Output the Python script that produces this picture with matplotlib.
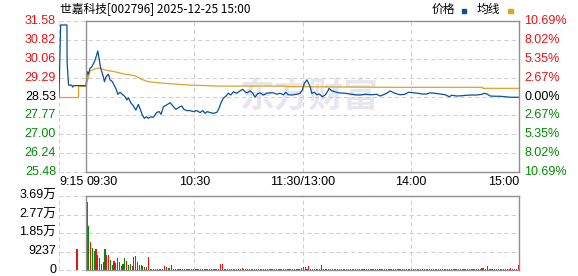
import matplotlib
matplotlib.use("Agg")
import matplotlib.pyplot as plt
from matplotlib.patches import Rectangle

# axis labels
PRICE_TICKS = [31.58, 30.82, 30.06, 29.29, 28.53, 27.77, 27.00, 26.24, 25.48]
PRICE_LABELS = ["31.58", "30.82", "30.06", "29.29", "28.53", "27.77", "27.00", "26.24", "25.48"]
PCT_LABELS = ["10.69%", "8.02%", "5.35%", "2.67%", "0.00%", "2.67%", "5.35%", "8.02%", "10.69%"]
VOL_TICKS = [36948, 27711, 18474, 9237, 0]
VOL_LABELS = ["3.69万", "2.77万", "1.85万", "9237", "0"]
TIME_POS = [-15, 0, 60, 120, 180, 240]
TIME_LABELS = ["9:15", "09:30", "10:30", "11:30/13:00", "14:00", "15:00"]

# minutes from 09:30 (negative = call auction from 09:15), afternoon continues at 120
pre_t = [-15, -14.1, -10.6, -10.5, -9.7, -8.0, -7.4, -6.8, 0]
pre_price = [28.55, 31.42, 31.42, 29.90, 28.99, 28.99, 28.91, 28.97, 28.97]
pre_avg_t = [-15, -4.5, -4.5, 0]
pre_avg = [28.53, 28.53, 28.95, 28.95]

t = [0.0, 0.7, 1.3, 2.2, 3.2, 4.4, 5.0, 5.9, 6.5, 7.2, 8.1, 9.3, 10.2, 11.1, 12.4, 13.3,
     14.6, 15.5, 16.5, 17.6, 18.8, 20.1, 21.6, 22.6, 23.5, 24.9, 26.2, 27.6, 29.0, 29.9,
     31.2, 32.3, 33.6, 34.5, 36.0, 37.3, 39.2, 40.5, 41.6, 42.9, 44.7, 46.6, 48.4, 49.9,
     51.2, 53.0, 54.3, 55.8, 57.6, 59.5, 61.4, 63.2, 64.7, 66.0, 67.2, 68.7, 70.6, 72.5,
     73.7, 74.8, 76.1, 77.6, 78.9, 80.2, 81.7, 83.5, 85.4, 86.9, 88.1, 89.4, 90.9, 92.4,
     93.7, 94.9, 96.4, 98.3, 100.2, 102.0, 103.8, 105.7, 107.5, 109.4, 110.7, 112.1,
     114.0, 116.8, 118.6, 119.9, 121.0, 122.4, 123.2, 124.2, 125.1, 126.6, 127.9, 129.3,
     131.0, 132.5, 133.8, 134.7, 136.2, 138.0, 139.9, 143.6, 146.3, 149.1, 151.9, 154.7,
     158.4, 161.1, 163.0, 164.8, 166.7, 168.5, 170.0, 171.3, 174.0, 176.8, 178.7, 181.4,
     184.2, 186.1, 188.9, 190.7, 193.5, 196.3, 199.1, 201.4, 202.7, 205.5, 208.3, 211.0,
     213.8, 216.6, 219.4, 220.8, 222.5, 224.0, 226.8, 229.5, 232.3, 235.1, 237.9, 240.0]
price = [28.97, 29.53, 29.43, 29.67, 29.73, 29.90, 30.00, 30.21, 30.37, 30.07, 29.67, 29.40,
         29.13, 29.33, 29.43, 29.20, 29.13, 28.99, 28.86, 28.62, 28.70, 28.62, 28.52, 28.39,
         28.48, 28.26, 28.16, 27.98, 28.21, 28.05, 27.78, 27.65, 27.71, 27.65, 27.71, 27.69,
         27.89, 27.92, 27.81, 28.12, 28.19, 28.28, 28.12, 28.01, 28.08, 28.15, 28.01, 27.96,
         27.96, 27.92, 27.96, 27.88, 27.96, 27.85, 27.92, 27.88, 27.85, 27.89, 28.05, 28.28,
         28.46, 28.55, 28.66, 28.59, 28.72, 28.66, 28.76, 28.82, 28.72, 28.68, 28.76, 28.66,
         28.50, 28.63, 28.68, 28.59, 28.66, 28.68, 28.68, 28.62, 28.66, 28.60, 28.70, 28.60,
         28.59, 28.62, 28.66, 28.79, 29.06, 29.20, 29.09, 28.93, 28.66, 28.70, 28.60, 28.63,
         28.52, 28.59, 28.72, 28.86, 28.76, 28.72, 28.68, 28.66, 28.63, 28.60, 28.59, 28.62,
         28.60, 28.62, 28.55, 28.60, 28.66, 28.76, 28.70, 28.66, 28.60, 28.62, 28.70, 28.68,
         28.66, 28.63, 28.63, 28.68, 28.66, 28.63, 28.60, 28.52, 28.58, 28.55, 28.56, 28.58,
         28.59, 28.59, 28.62, 28.66, 28.62, 28.55, 28.54, 28.54, 28.52, 28.50, 28.50, 28.50]

avg_t = [0, 2.2, 5.9, 8.0, 10.5, 16.0, 21.6, 27.1, 30.9, 34.5, 38.2, 44.0, 57.6, 74.3,
         111.0, 111.2, 170.0, 219.8, 220.0, 240]
avg = [28.95, 29.56, 29.67, 29.67, 29.60, 29.53, 29.43, 29.37, 29.22, 29.13, 29.10, 29.06,
       28.99, 28.95, 28.95, 28.93, 28.90, 28.90, 28.86, 28.86]

# volume per minute (09:30 onwards) and up/down colour
pre_vol_t = [-5]
pre_vol = [10330]
vol = [33800, 21950, 13970, 10980, 9630, 10330, 7480, 5990, 2990, 3990, 10330, 7480, 7480, 4990, 2500, 4640, 3640, 5990, 4140, 2000,
       2990, 5990, 4640, 2330, 2990, 2000, 6640, 6990, 4140, 2500, 2330, 2000, 1660, 1660, 6640, 700, 600, 650, 500, 600,
       550, 700, 600, 2000, 1660, 800, 1000, 2500, 600, 500, 550, 600, 500, 650, 500, 450, 600, 500, 550, 500,
       500, 600, 450, 500, 550, 500, 600, 500, 450, 550, 500, 600, 500, 550, 2990, 2990, 700, 500, 550, 600,
       500, 450, 550, 600, 500, 700, 1000, 600, 500, 450, 550, 500, 600, 500, 550, 500, 450, 600, 500, 550,
       500, 600, 450, 500, 550, 500, 600, 500, 450, 550, 500, 600, 500, 550, 500, 600, 450, 500, 550, 800,
       1660, 1330, 600, 2000, 700, 600, 550, 500, 600, 550, 2660, 600, 500, 550, 600, 500, 450, 550, 500, 600,
       500, 450, 550, 500, 600, 500, 550, 450, 500, 600, 500, 550, 500, 450, 600, 500, 550, 500, 600, 450,
       500, 550, 600, 500, 450, 550, 500, 600, 500, 550, 450, 500, 600, 500, 550, 500, 450, 600, 500, 550,
       500, 600, 450, 500, 550, 500, 600, 500, 450, 550, 500, 600, 500, 550, 500, 450, 600, 500, 550, 500,
       600, 450, 500, 550, 500, 600, 500, 450, 550, 500, 600, 500, 550, 500, 450, 600, 500, 600, 700, 1000,
       1000, 600, 2000, 600, 500, 550, 500, 600, 450, 500, 550, 500, 600, 500, 550, 1000, 500, 600, 700, 2500]
vol_dir = ("rgrggrrggggrrggrggrg" "ggrggrgrgrggrgrgrrgg" "rgrrrgrgrggrgrrgrggr"
           "grrgrgggrrgrgrrrgrgr" "rgrgrgrgrggrgrgrrgrg" "grgrrgrgggrgrgrgrgrr"
           "rrgrgrgrgrggrgrgrgrg" "rgrgrrgrgrgggrgrgrgr" "grgrgrrgrgrgrggrgrgr"
           "rgrgrgrgrrgrgrgggrgr" "grgrgrgrrgrgrgrgggrr" "rggrgrgrgrggrgrrgrgr")

RED = "#f01010"
GREEN = "#008a00"
BLUE = "#0a4f9e"
GOLD = "#e0a424"
GRID = "#cfcfcf"
FRAME = "#8f8f8f"
NUM_FONT = ["Liberation Sans", "Noto Sans CJK SC"]
CJK_FONT = ["Noto Sans CJK SC", "DejaVu Sans"]

W, H = 578, 276
fig = plt.figure(figsize=(W / 100, H / 100), dpi=100)


def px_box(x0, y0, x1, y1):
    return [x0 / W, 1 - y1 / H, (x1 - x0) / W, (y1 - y0) / H]


ax = fig.add_axes(px_box(59, 21, 519, 172))
axv = fig.add_axes(px_box(59, 196, 519, 270))

for a, lo, hi, levels in [(ax, 25.48, 31.58, PRICE_TICKS), (axv, 0, 36948, VOL_TICKS)]:
    a.set_xlim(-15, 240)
    a.set_ylim(lo, hi)
    a.axis("off")
    for lv in levels:
        a.axhline(lv, color=GRID, lw=0.75, ls=(0, (4, 3)), zorder=1, clip_on=False)
    for x in [-15, 60, 120, 180]:
        a.axvline(x, color=GRID, lw=0.75, ls=(0, (4, 3)), zorder=1, clip_on=False)
    # frame of the continuous session
    a.axvline(0, color=FRAME, lw=1.0, zorder=5, clip_on=False)
    a.axvline(240, color=FRAME, lw=1.0, zorder=5, clip_on=False)
    a.axhline(hi, xmin=15 / 255, color=FRAME, lw=1.0, zorder=5, clip_on=False)
    a.axhline(lo, xmin=15 / 255, color=FRAME, lw=1.0, zorder=5, clip_on=False)

# watermark
ax.text(124, 28.55, "东方财富", ha="center", va="center", fontsize=25, fontweight="bold",
        color="#e6e6ec", family=CJK_FONT, zorder=0)

ax.plot(pre_avg_t, pre_avg, color=GOLD, lw=0.9, zorder=3)
ax.plot(avg_t, avg, color=GOLD, lw=0.9, zorder=3)
ax.plot(pre_t, pre_price, color=BLUE, lw=0.9, zorder=4)
ax.plot(t, price, color=BLUE, lw=0.9, zorder=4)

# price / percent labels
ytr = ax.get_yaxis_transform()
for i, (lv, lab, pct) in enumerate(zip(PRICE_TICKS, PRICE_LABELS, PCT_LABELS)):
    col = RED if i < 4 else ("black" if i == 4 else GREEN)
    ax.text(-0.0065, lv, lab, transform=ytr, ha="right", va="center", fontsize=9,
            color=col, family=NUM_FONT)
    ax.text(1.011, lv, pct, transform=ytr, ha="left", va="center", fontsize=9,
            color=col, family=NUM_FONT)

# time labels
xtr = ax.get_xaxis_transform()
aligns = ["left", "left", "center", "center", "center", "right"]
for pos, lab, al in zip(TIME_POS, TIME_LABELS, aligns):
    ax.text(pos, -0.068, lab, transform=xtr, ha=al, va="center", fontsize=9,
            color="black", family=NUM_FONT)

# volume bars
xs = [i + 0.5 for i in range(len(vol))]
cols = [RED if c == "r" else GREEN for c in vol_dir]
axv.bar(pre_vol_t, pre_vol, width=0.6, color=RED, linewidth=0, antialiased=False, zorder=3)
axv.bar(xs, vol, width=0.6, color=cols, linewidth=0, antialiased=False, zorder=3)

vtr = axv.get_yaxis_transform()
for lv, lab in zip(VOL_TICKS, VOL_LABELS):
    axv.text(-0.0065, lv, lab, transform=vtr, ha="right", va="center", fontsize=9,
             color="black", family=NUM_FONT)

# title and legend
fig.text(60 / W, 1 - 9 / H, "世嘉科技[002796] 2025-12-25 15:00", ha="left", va="center",
         fontsize=8.5, family=CJK_FONT)
fig.text(432 / W, 1 - 9.5 / H, "价格", ha="left", va="center", fontsize=8.5, family=CJK_FONT)
fig.text(477 / W, 1 - 9.5 / H, "均线", ha="left", va="center", fontsize=8.5, family=CJK_FONT)
fig.add_artist(Rectangle((462 / W, 1 - 12.5 / H), 4 / W, 3 / H, color=BLUE,
                         transform=fig.transFigure))
fig.add_artist(Rectangle((508 / W, 1 - 12.5 / H), 4.5 / W, 3 / H, color=GOLD,
                         transform=fig.transFigure))

fig.savefig("out.png", dpi=100)
